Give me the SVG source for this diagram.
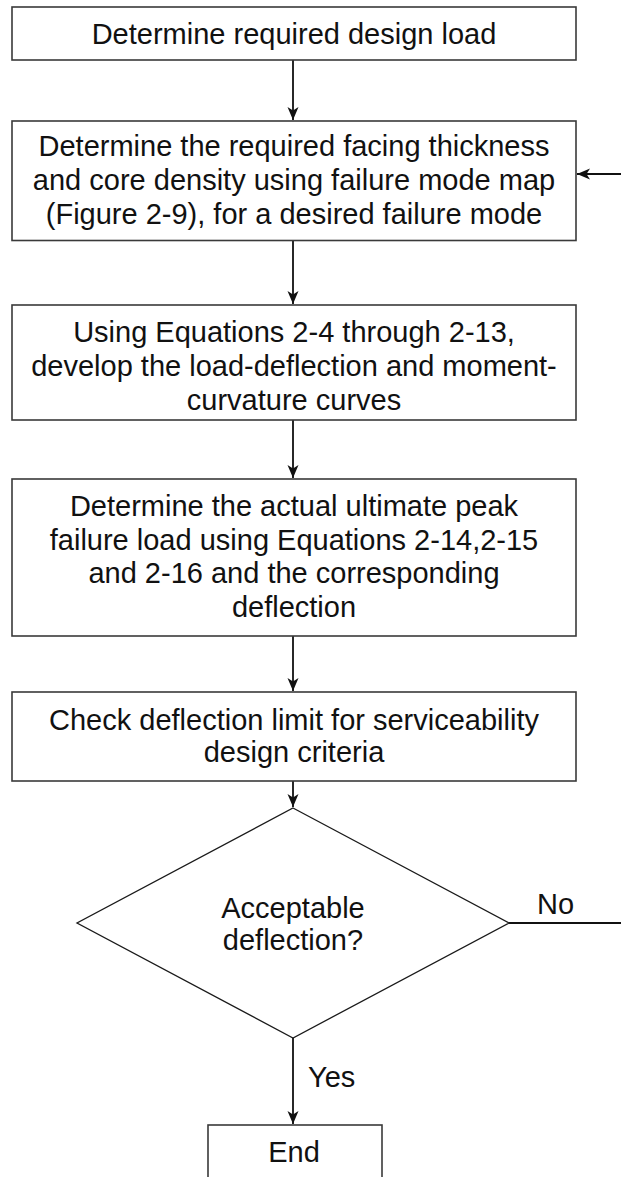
<svg xmlns="http://www.w3.org/2000/svg" width="621" height="1177" viewBox="0 0 621 1177">
<style>
.box{fill:#fff;stroke:#3a3a3a;stroke-width:1.6}
.dia{fill:#fff;stroke:#1a1a1a;stroke-width:1.3}
.t{font-family:"Liberation Sans",Arial,sans-serif;font-size:29px;fill:#111;text-anchor:middle}
.tl{font-family:"Liberation Sans",Arial,sans-serif;font-size:29px;fill:#111}
.c{stroke:#111;stroke-width:1.8;fill:none}
</style>
<defs>
<marker id="ah" markerUnits="userSpaceOnUse" markerWidth="14" markerHeight="14" viewBox="0 0 14 14" refX="13" refY="7" orient="auto">
<path d="M0,1.5 L13,7 L0,12.5 L3.5,7 z" fill="#111"/>
</marker>
</defs>
<rect width="621" height="1177" fill="#fff"/>
<g id="connectors">
<line class="c" x1="293" y1="60" x2="293" y2="120" marker-end="url(#ah)"/>
<line class="c" x1="293" y1="241" x2="293" y2="304" marker-end="url(#ah)"/>
<line class="c" x1="293" y1="420" x2="293" y2="478" marker-end="url(#ah)"/>
<line class="c" x1="293" y1="636" x2="293" y2="691" marker-end="url(#ah)"/>
<line class="c" x1="293" y1="781" x2="293" y2="807" marker-end="url(#ah)"/>
<line class="c" x1="293" y1="1038" x2="293" y2="1124" marker-end="url(#ah)"/>
<line class="c" x1="509" y1="923" x2="621" y2="923"/>
<line class="c" x1="621" y1="174" x2="577" y2="174" marker-end="url(#ah)"/>
<text class="tl" x="537" y="914">No</text>
<text class="tl" x="308" y="1087">Yes</text>
</g>
<g id="n1">
<rect class="box" x="12" y="7" width="564" height="53"/>
<text class="t" x="294" y="44">Determine required design load</text>
</g>
<g id="n2">
<rect class="box" x="12" y="121" width="564" height="119.5"/>
<text class="t" x="294" y="156">Determine the required facing thickness</text>
<text class="t" x="294" y="190">and core density using failure mode map</text>
<text class="t" x="294" y="224">(Figure 2-9), for a desired failure mode</text>
</g>
<g id="n3">
<rect class="box" x="12" y="305" width="564" height="115"/>
<text class="t" x="294" y="342">Using Equations 2-4 through 2-13,</text>
<text class="t" x="294" y="376">develop the load-deflection and moment-</text>
<text class="t" x="294" y="410">curvature curves</text>
</g>
<g id="n4">
<rect class="box" x="12" y="479" width="564" height="157"/>
<text class="t" x="294" y="516">Determine the actual ultimate peak</text>
<text class="t" x="294" y="550">failure load using Equations 2-14,2-15</text>
<text class="t" x="294" y="583">and 2-16 and the corresponding</text>
<text class="t" x="294" y="617">deflection</text>
</g>
<g id="n5">
<rect class="box" x="12" y="692" width="564" height="89"/>
<text class="t" x="294" y="730">Check deflection limit for serviceability</text>
<text class="t" x="294" y="762">design criteria</text>
</g>
<g id="n6">
<polygon class="dia" points="293,808 509,923 293,1038 77,923"/>
<text class="t" x="293" y="918">Acceptable</text>
<text class="t" x="293" y="950">deflection?</text>
</g>
<g id="n7">
<rect class="box" x="208" y="1125" width="174" height="70"/>
<text class="t" x="294" y="1162">End</text>
</g>
</svg>
